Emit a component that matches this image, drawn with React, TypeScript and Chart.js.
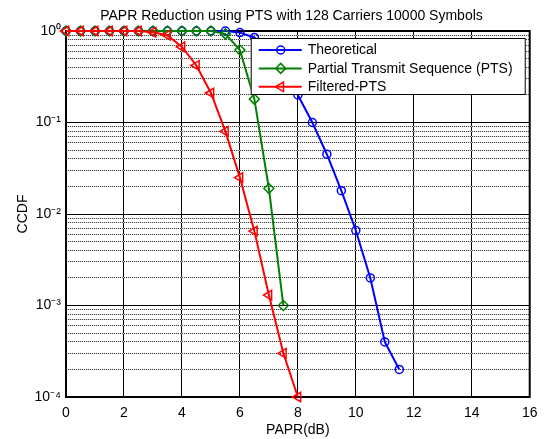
import React, { useEffect, useRef } from 'react';
import { Chart, registerables } from 'chart.js';

Chart.register(...registerables);

const TITLE = 'PAPR Reduction using PTS with 128 Carriers 10000 Symbols';
const X_LABEL = 'PAPR(dB)';
const Y_LABEL = 'CCDF';
const SERIES_NAMES = ['Theoretical', 'Partial Transmit Sequence (PTS)', 'Filtered-PTS'];

const paprTheoretical = [0, 0.5, 1, 1.5, 2, 2.5, 3, 3.5, 4, 4.5, 5, 5.5, 6, 6.5, 7, 7.5, 8, 8.5, 9, 9.5, 10, 10.5, 11, 11.5];
const ccdfTheoretical = [1, 1, 1, 1, 1, 1, 1, 1, 1, 1, 1, 1, 0.96, 0.85, 0.6, 0.38, 0.2, 0.1, 0.045, 0.018, 0.0066, 0.002, 0.0004, 0.0002];

const paprPts = [0, 0.5, 1, 1.5, 2, 2.5, 3, 3.5, 4, 4.5, 5, 5.5, 6, 6.5, 7, 7.5];
const ccdfPts = [1, 1, 1, 1, 1, 1, 1, 1, 1, 1, 1, 0.93, 0.62, 0.18, 0.019, 0.001];

const paprFiltered = [0, 0.5, 1, 1.5, 2, 2.5, 3, 3.5, 4, 4.5, 5, 5.5, 6, 6.5, 7, 7.5, 8];
const ccdfFiltered = [1, 1, 1, 1, 1, 1, 0.97, 0.9, 0.67, 0.42, 0.21, 0.08, 0.025, 0.0065, 0.0013, 0.0003, 0.0001];

const xTicks = [0, 2, 4, 6, 8, 10, 12, 14, 16];
const yMajorTicks = [1e-4, 1e-3, 1e-2, 1e-1, 1];
const yTickLabels = ['10\u207B\u2074', '10\u207B\u00B3', '10\u207B\u00B2', '10\u207B\u00B9', '10\u2070'];
const yMinorMultipliers = [2, 3, 4, 5, 6, 7, 8, 9];

const COLORS = ['#0000ff', '#008000', '#ff0000'];
const FONT = '"Liberation Sans", Arial, Helvetica, sans-serif';
const FS = 14;

type Marker = { style: string; radius: number; rotation: number };
const MARKERS: Marker[] = [
  { style: 'circle', radius: 4, rotation: 0 },
  { style: 'rectRot', radius: 5, rotation: 0 },
  { style: 'triangle', radius: 5.5, rotation: -90 },
];

function drawMarker(ctx: CanvasRenderingContext2D, m: Marker, x: number, y: number) {
  const r = m.radius;
  ctx.beginPath();
  if (m.style === 'circle') {
    ctx.arc(x, y, r, 0, Math.PI * 2);
  } else if (m.style === 'rectRot') {
    ctx.moveTo(x, y - r);
    ctx.lineTo(x + r, y);
    ctx.lineTo(x, y + r);
    ctx.lineTo(x - r, y);
    ctx.closePath();
  } else {
    let rad = (m.rotation * Math.PI) / 180;
    ctx.moveTo(x + Math.sin(rad) * r, y - Math.cos(rad) * r);
    rad += (2 * Math.PI) / 3;
    ctx.lineTo(x + Math.sin(rad) * r, y - Math.cos(rad) * r);
    rad += (2 * Math.PI) / 3;
    ctx.lineTo(x + Math.sin(rad) * r, y - Math.cos(rad) * r);
    ctx.closePath();
  }
  ctx.stroke();
}

const titleShiftPlugin = {
  id: 'titleShift',
  afterLayout(chart: any) {
    if (chart.titleBlock) {
      chart.titleBlock.left = 52;
    }
  },
};

const boxPlugin = {
  id: 'matlabBox',
  beforeDatasetsDraw(chart: any) {
    const { ctx, chartArea } = chart;
    ctx.save();
    ctx.strokeStyle = '#000';
    ctx.lineWidth = 2;
    ctx.strokeRect(chartArea.left, chartArea.top, chartArea.right - chartArea.left, chartArea.bottom - chartArea.top);
    ctx.restore();
  },
};

const legendPlugin = {
  id: 'matlabLegend',
  afterDatasetsDraw(chart: any) {
    const { ctx, chartArea } = chart;
    const w = 275;
    const h = 57;
    const x0 = chartArea.right - 4 - w;
    const y0 = chartArea.top + 7;
    ctx.save();
    ctx.fillStyle = '#fff';
    ctx.fillRect(x0, y0, w, h);
    ctx.strokeStyle = '#000';
    ctx.lineWidth = 1;
    ctx.strokeRect(x0 + 0.5, y0 + 0.5, w - 1, h - 1);
    ctx.font = `${FS}px ${FONT}`;
    ctx.textBaseline = 'middle';
    ctx.textAlign = 'left';
    chart.data.datasets.forEach((ds: any, i: number) => {
      const y = y0 + 12 + i * 18.4;
      ctx.strokeStyle = ds.borderColor;
      ctx.lineWidth = 2;
      ctx.beginPath();
      ctx.moveTo(x0 + 8, y);
      ctx.lineTo(x0 + 51, y);
      ctx.stroke();
      ctx.lineWidth = 1.5;
      drawMarker(ctx, MARKERS[i], x0 + 30, y);
      ctx.fillStyle = '#000';
      ctx.fillText(ds.label, x0 + 57, y + 0.5);
    });
    ctx.restore();
  },
};

export default function App() {
  const canvasRef = useRef<HTMLCanvasElement | null>(null);

  useEffect(() => {
    const canvas = canvasRef.current;
    if (!canvas) return;
    const c2d = canvas.getContext('2d') as CanvasRenderingContext2D;
    const pc = document.createElement('canvas');
    pc.width = 2;
    pc.height = 1;
    const pctx = pc.getContext('2d') as CanvasRenderingContext2D;
    pctx.fillStyle = '#444';
    pctx.fillRect(0, 0, 1, 1);
    pctx.fillStyle = '#d8d8d8';
    pctx.fillRect(1, 0, 1, 1);
    const dotted = c2d.createPattern(pc, 'repeat');

    const series = [
      { xs: paprTheoretical, ys: ccdfTheoretical },
      { xs: paprPts, ys: ccdfPts },
      { xs: paprFiltered, ys: ccdfFiltered },
    ];

    const datasets = series.map((s, i) => ({
      label: SERIES_NAMES[i],
      data: s.xs.map((x, j) => ({ x, y: s.ys[j] })),
      borderColor: COLORS[i],
      backgroundColor: 'rgba(0,0,0,0)',
      borderWidth: 2,
      pointStyle: MARKERS[i].style,
      pointRadius: MARKERS[i].radius,
      pointRotation: MARKERS[i].rotation,
      pointBorderWidth: 1.5,
      pointBorderColor: COLORS[i],
      pointBackgroundColor: 'rgba(0,0,0,0)',
      tension: 0,
      clip: false as any,
      order: 2 - i,
    }));

    const allYTicks: number[] = [];
    yMajorTicks.forEach((m, k) => {
      allYTicks.push(m);
      if (k < yMajorTicks.length - 1) yMinorMultipliers.forEach((f) => allYTicks.push(m * f));
    });

    const chart = new Chart(canvas, {
      type: 'line',
      data: { datasets: datasets as any },
      options: {
        animation: false,
        responsive: false,
        devicePixelRatio: 1,
        layout: { padding: { left: 0, right: 14, top: 0, bottom: 0 } },
        plugins: {
          legend: { display: false },
          tooltip: { enabled: false },
          title: {
            display: true,
            text: TITLE,
            color: '#000',
            font: { family: FONT, size: FS, weight: 'normal', lineHeight: 1.2 },
            padding: { top: 8, bottom: 6.2 },
          },
        },
        scales: {
          x: {
            type: 'linear',
            min: 0,
            max: 16,
            afterFit: (scale: any) => {
              scale.height = 42;
            },
            afterBuildTicks: (scale: any) => {
              scale.ticks = xTicks.map((v) => ({ value: v }));
            },
            ticks: {
              color: '#000',
              font: { family: FONT, size: FS },
              padding: 7.5,
              callback: (v: any) => String(v),
              maxRotation: 0,
            },
            grid: { color: '#000', lineWidth: 1, drawTicks: false },
            border: { display: false },
            title: {
              display: true,
              text: X_LABEL,
              color: '#000',
              font: { family: FONT, size: FS },
              padding: { top: 0, bottom: 0 },
            },
          },
          y: {
            type: 'logarithmic',
            min: 1e-4,
            max: 1,
            afterFit: (scale: any) => {
              scale.width = 66;
            },
            afterBuildTicks: (scale: any) => {
              scale.ticks = allYTicks.slice().sort((a, b) => a - b).map((v) => ({ value: v }));
            },
            ticks: {
              autoSkip: false,
              color: '#000',
              font: { family: FONT, size: FS },
              padding: 5,
              callback: (v: any) => {
                const idx = yMajorTicks.indexOf(Number(v));
                return idx >= 0 ? yTickLabels[idx] : '';
              },
            },
            grid: {
              drawTicks: false,
              lineWidth: 1,
              color: (ctx: any) => {
                const v = ctx.tick ? ctx.tick.value : null;
                return v !== null && yMajorTicks.indexOf(v) >= 0 ? '#000' : (dotted as any);
              },
            },
            border: { display: false },
            title: {
              display: true,
              text: Y_LABEL,
              color: '#000',
              font: { family: FONT, size: FS },
              padding: { top: 15, bottom: 0 },
            },
          },
        },
      },
      plugins: [titleShiftPlugin, boxPlugin, legendPlugin],
    });

    return () => chart.destroy();
  }, []);

  return (
    <div style={{ position: 'fixed', left: 0, top: 0, width: 545, height: 439, background: '#fff' }}>
      <canvas ref={canvasRef} width={545} height={439} style={{ width: 545, height: 439, display: 'block' }} />
    </div>
  );
}
